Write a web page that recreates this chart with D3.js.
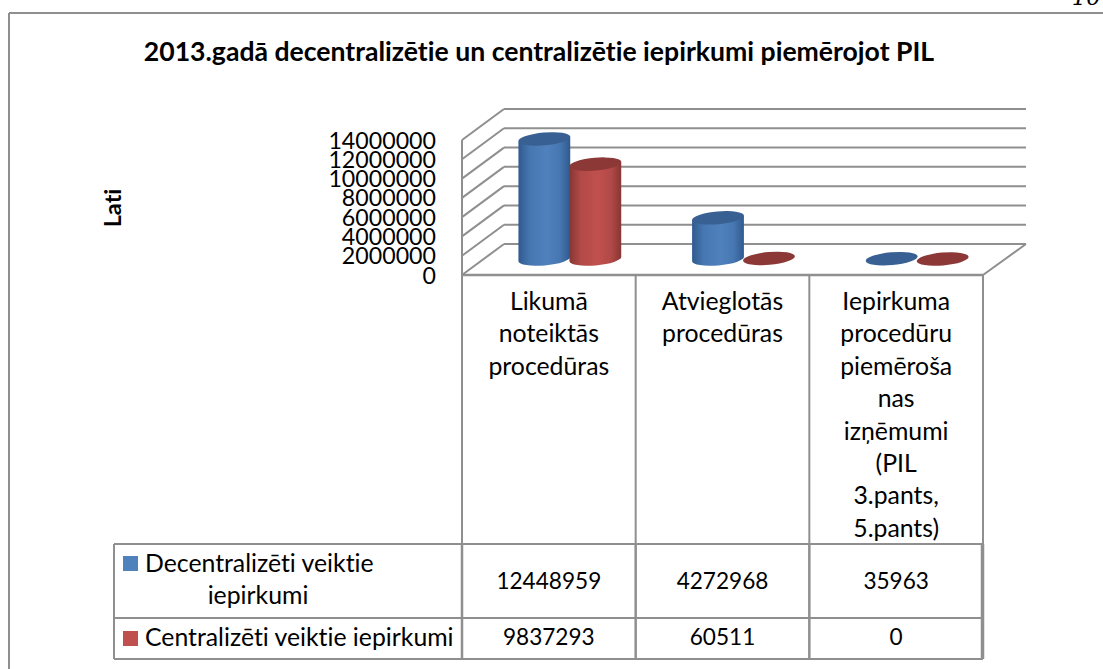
<!DOCTYPE html>
<html><head><meta charset="utf-8">
<style>html,body{margin:0;padding:0;background:#fff;overflow:hidden}svg{display:block}text{font-family:Lato,"Noto Sans",sans-serif;fill:#000;font-variant-ligatures:none}</style>
<script src="https://cdn.jsdelivr.net/npm/d3@7/dist/d3.min.js"></script>
</head><body><div id="c"></div>
<script>
const categories=["Likumā noteiktās procedūras","Atvieglotās procedūras","Iepirkuma procedūru piemērošanas izņēmumi (PIL 3.pants, 5.pants)"];
const categoryLines=[["Likumā","noteiktās","procedūras"],["Atvieglotās","procedūras"],["Iepirkuma","procedūru","piemēroša","nas","izņēmumi","(PIL","3.pants,","5.pants)"]];
const seriesNames=["Decentralizēti veiktie iepirkumi","Centralizēti veiktie iepirkumi"];
const decentralized=[12448959,4272968,35963];
const centralized=[9837293,60511,0];
const yTicks=[0,2000000,4000000,6000000,8000000,10000000,12000000,14000000];
const titleText="2013.gadā decentralizētie un centralizētie iepirkumi piemērojot PIL";
const yLabel="Lati";
const pageNumber="10";
const seriesColors=[{base:"#4f81bd",edge:"#2f5a8e",top:"#386092"},{base:"#c0504d",edge:"#873634",top:"#8c3836"}];

const W=1103,H=669,grey="#8f8f8f";
const svg=d3.select("#c").append("svg").attr("width",W).attr("height",H);
const defs=svg.append("defs");
seriesColors.forEach((c,i)=>{
  const g=defs.append("linearGradient").attr("id","cyl"+i).attr("x1",0).attr("x2",1).attr("y1",0).attr("y2",0);
  [[0,c.edge],[.22,d3.interpolateRgb(c.edge,c.base)(.75)],[.55,c.base],[.8,d3.interpolateRgb(c.edge,c.base)(.75)],[1,c.edge]]
    .forEach(s=>g.append("stop").attr("offset",s[0]).attr("stop-color",s[1]));
});
const x0=462,x1=983,yF=275,yT=140,dx=42,dy=-31;
const y=d3.scaleLinear().domain([0,14000000]).range([yF,yT]);
const xB=d3.scaleBand().domain(categories).range([x0,x1]);
const line=(a,b,c,d,w=2)=>svg.append("line").attr("x1",a).attr("y1",b).attr("x2",c).attr("y2",d).attr("stroke",grey).attr("stroke-width",w);

// page frame: top and left only, the right side is open in the reference
line(9,13,W,13);
line(9,13,9,H);
svg.append("text").attr("x",1101).attr("y",5).attr("text-anchor","end").attr("font-size",23).style("font-family","'DejaVu Serif',serif").style("font-style","italic").text(pageNumber);
svg.append("text").attr("x",539).attr("y",61).attr("text-anchor","middle").attr("font-size",26.6).attr("font-weight",700).text(titleText);
svg.append("text").attr("transform","translate(121,208) rotate(-90)").attr("text-anchor","middle").attr("font-size",23.5).attr("font-weight",700).text(yLabel);

// walls
yTicks.forEach(t=>{
  line(x0,y(t),x0+dx,y(t)+dy);
  line(x0+dx,y(t)+dy,x1+dx+1,y(t)+dy);
});
line(x0,yF,x0,yT);
line(x0,yF,x1,yF,2.5);
line(x1,yF,x1+dx+1,yF+dy);

// tick labels
svg.append("g").selectAll("text").data(yTicks).join("text")
  .attr("x",436).attr("y",d=>y(d)+8.5).attr("text-anchor","end").attr("font-size",23.2).text(d=>d);

// cylinders
const rx=26,ry=6.4,tilt=-5,tx=rx*Math.cos(tilt*Math.PI/180),ty=rx*Math.sin(tilt*Math.PI/180);
const floorOffset=-16;
[decentralized,centralized].forEach((vals,s)=>{
  const gs=svg.append("g");
  vals.forEach((v,i)=>{
    const cx=xB(categories[i])+xB.bandwidth()/2+21+(s===0?-25.5:25.5);
    const yb=yF+floorOffset, yt=y(v)+floorOffset;
    if(yb-yt>1.5){
      gs.append("path").attr("fill",`url(#cyl${s})`)
        .attr("d",`M${cx-tx},${yt-ty} L${cx-tx},${yb-ty} A${rx},${ry} ${tilt} 0 0 ${cx+tx},${yb+ty} L${cx+tx},${yt+ty} Z`);
    }
    gs.append("ellipse").attr("cx",cx).attr("cy",yt).attr("rx",rx).attr("ry",ry)
      .attr("transform",`rotate(${tilt} ${cx} ${yt})`).attr("fill",seriesColors[s].top);
  });
});

// data table
const tL=114,rows=[544,618,659];
[x0,x0+xB.step(),x0+2*xB.step(),x1].forEach(v=>line(v,yF,v,rows[0]));
[x0,x0+xB.step(),x0+2*xB.step()].forEach(v=>line(v,rows[0],v,rows[2],2.5));
line(x1-.5,rows[0],x1-.5,rows[2],3.5);
rows.forEach(r=>line(tL,r,x1,r));
line(tL,rows[0],tL,rows[2]);
const textSize=24.8, digitSize=22.6;
categoryLines.forEach((ls,i)=>{
  svg.append("g").selectAll("text").data(ls).join("text")
   .attr("x",xB(categories[i])+xB.bandwidth()/2).attr("y",(d,j)=>310+j*32.4).attr("text-anchor","middle").attr("font-size",textSize).text(d=>d);
});
const rowY=[589,645];
[decentralized,centralized].forEach((vals,s)=>{
  svg.append("g").selectAll("text").data(vals).join("text")
   .attr("x",(d,i)=>xB(categories[i])+xB.bandwidth()/2).attr("y",rowY[s]).attr("text-anchor","middle").attr("font-size",digitSize).text(d=>d);
  svg.append("rect").attr("x",123).attr("y",[556,631][s]).attr("width",15).attr("height",15).attr("fill",seriesColors[s].base);
});
svg.append("text").attr("x",145).attr("y",572).attr("font-size",textSize).text("Decentralizēti veiktie");
svg.append("text").attr("x",258).attr("y",604).attr("text-anchor","middle").attr("font-size",textSize).text("iepirkumi");
svg.append("text").attr("x",145).attr("y",646).attr("font-size",textSize).text(seriesNames[1]);
</script></body></html>
